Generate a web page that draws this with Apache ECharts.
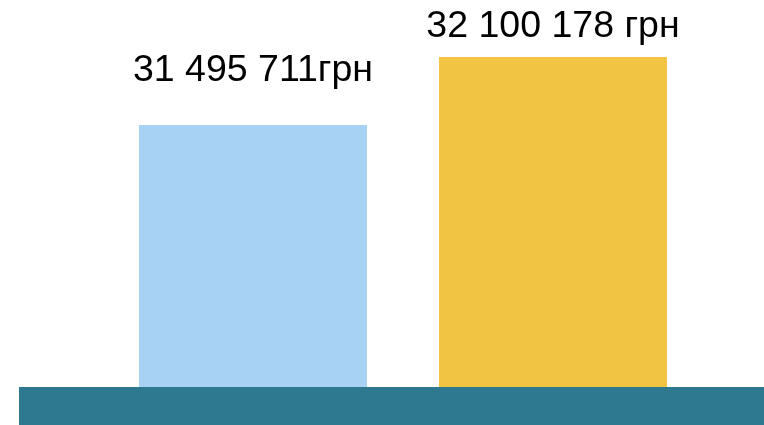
<!DOCTYPE html>
<html>
<head>
<meta charset="utf-8">
<script src="https://cdn.jsdelivr.net/npm/echarts@6/dist/echarts.min.js"></script>
<style>html,body{margin:0;padding:0;background:#fff}#c{width:764px;height:425px}</style>
</head>
<body>
<div id="c"></div>
<script>
const categories = ['2023', '2024'];
const values = [31495711, 32100178];
const labels = ['31 495 711грн', '32 100 178 грн'];
const colors = ['#a8d2f4', '#f1c443'];
const labelDistances = [35, 11];
const yMin = 29166700;
const yMax = 32606800;

const chart = echarts.init(document.getElementById('c'));
chart.setOption({
  animation: false,
  grid: { left: 103, right: 61, top: 0, bottom: 38 },
  xAxis: { type: 'category', data: categories, show: false },
  yAxis: { type: 'value', min: yMin, max: yMax, show: false },
  graphic: [{
    type: 'rect', left: 19, top: 387,
    shape: { width: 745, height: 38 },
    style: { fill: '#2e7890' }, z: 10
  }],
  series: [{
    type: 'bar',
    barWidth: 228,
    data: values.map((v, i) => ({
      value: v,
      itemStyle: { color: colors[i] },
      label: {
        show: true, position: 'top', distance: labelDistances[i],
        formatter: labels[i], color: '#000',
        fontFamily: 'Liberation Sans, Arial, sans-serif', fontSize: 37.5
      }
    }))
  }]
});
</script>
</body>
</html>
